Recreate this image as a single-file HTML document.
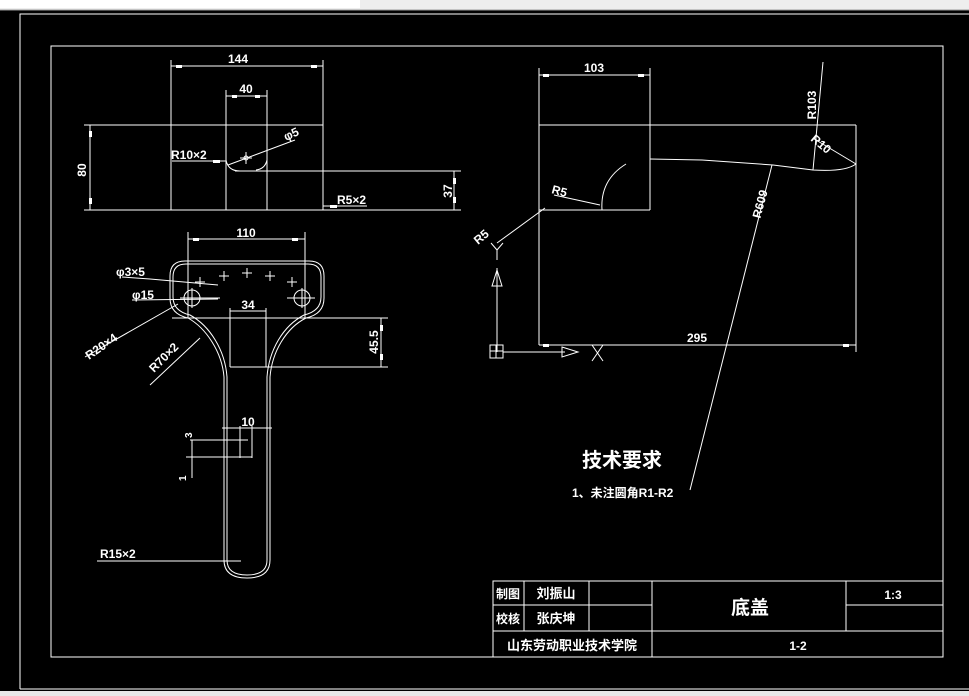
<!DOCTYPE html>
<html><head><meta charset="utf-8"><style>
html,body{margin:0;padding:0;background:#000;width:969px;height:696px;overflow:hidden}
svg{display:block}
text{fill:#fff;font-family:"Liberation Sans Narrow","Liberation Sans","Noto Sans CJK SC",sans-serif;font-weight:bold}
.c{font-family:"Liberation Sans","Noto Sans CJK SC",sans-serif}
</style></head><body>
<svg width="969" height="696" viewBox="0 0 969 696" xmlns="http://www.w3.org/2000/svg">
<rect x="0" y="0" width="969" height="10" fill="#eeeeee"/>
<rect x="0" y="0" width="360" height="8" fill="#fff"/>
<line x1="0" y1="10" x2="969" y2="10" stroke="#999"/>
<rect x="0" y="691" width="969" height="5" fill="#e8e8e8"/>
<g stroke="#fff" stroke-width="1" fill="none">
<polyline points="20,689 20,14 969,14"/>
<line x1="20" y1="689" x2="969" y2="689"/>
<rect x="51" y="46" width="892" height="611"/>
<rect x="493" y="581" width="450" height="76"/>
<line x1="493" y1="605" x2="652" y2="605"/>
<line x1="846" y1="605" x2="943" y2="605"/>
<line x1="493" y1="631" x2="943" y2="631"/>
<line x1="524" y1="581" x2="524" y2="631"/>
<line x1="589" y1="581" x2="589" y2="631"/>
<line x1="652" y1="581" x2="652" y2="657"/>
<line x1="846" y1="581" x2="846" y2="631"/>

<line x1="84" y1="125" x2="323" y2="125"/>
<line x1="84" y1="210" x2="461" y2="210"/>
<line x1="90" y1="125" x2="90" y2="210"/>
<line x1="171" y1="60" x2="171" y2="210"/>
<line x1="323" y1="60" x2="323" y2="210"/>
<line x1="226" y1="90" x2="226" y2="210"/>
<line x1="267" y1="90" x2="267" y2="210"/>
<line x1="171" y1="66" x2="323" y2="66"/>
<line x1="226" y1="96" x2="267" y2="96"/>
<path d="M235,171 H461"/>
<path d="M226,160 Q228,171 240,171"/>
<path d="M267,160 Q265,169 256,170"/>
<line x1="454" y1="171" x2="454" y2="210"/>
<line x1="172" y1="161" x2="226" y2="161"/>
<line x1="228" y1="165" x2="295" y2="140"/>
<line x1="240" y1="158" x2="252" y2="158"/><line x1="246" y1="152" x2="246" y2="164"/>
<circle cx="246" cy="158" r="2"/>
<line x1="323" y1="206" x2="367" y2="206"/>

<line x1="539" y1="68" x2="539" y2="345"/>
<line x1="650" y1="68" x2="650" y2="210"/>
<line x1="539" y1="75" x2="650" y2="75"/>
<line x1="539" y1="125" x2="856" y2="125"/>
<line x1="856" y1="125" x2="856" y2="352"/>
<line x1="539" y1="210" x2="650" y2="210"/>
<line x1="539" y1="345" x2="856" y2="345"/>
<path d="M650,159 L702,160 L773,165 L813,170 Q845,172 856,164"/>
<path d="M602,210 Q600,180 626,164"/>
<line x1="554" y1="195" x2="600" y2="205"/>
<line x1="497" y1="243" x2="545" y2="208"/>
<line x1="823" y1="62" x2="813" y2="170"/>
<line x1="816" y1="140" x2="856" y2="164"/>
<line x1="690" y1="490" x2="772" y2="165"/>
<line x1="497" y1="268" x2="497" y2="352"/>
<line x1="503" y1="352" x2="565" y2="352"/>
<rect x="490" y="345" width="13" height="13"/>
<line x1="496" y1="345" x2="496" y2="358"/><line x1="490" y1="351" x2="503" y2="351"/>
<path d="M562,347 L578,352 L562,357 Z"/>
<path d="M492,286 L497,270 L502,286 Z"/>
<line x1="592" y1="345" x2="603" y2="361"/><line x1="603" y1="345" x2="592" y2="361"/>
<line x1="497" y1="250" x2="497" y2="260"/><line x1="497" y1="250" x2="491" y2="243"/><line x1="497" y1="250" x2="503" y2="243"/>

<line x1="188" y1="232" x2="188" y2="318"/>
<line x1="305" y1="232" x2="305" y2="318"/>
<line x1="188" y1="239" x2="305" y2="239"/>
<path d="M185,261 H309 Q324,261 324,276 V298 Q324,314 306,318 C286,328 272,352 270,377 V560 Q270,578 247,578 Q224,578 224,560 V377 C222,352 206,328 188,318 Q170,314 170,298 V276 Q170,261 185,261 Z"/>
<path d="M186,264 H308 Q321,264 321,277 V297 Q321,311 304,315 C283,326 269,350 267,377 V560 Q267,575 247,575 Q227,575 227,560 V377 C225,350 210,326 190,315 Q173,311 173,297 V277 Q173,264 186,264 Z"/>
<line x1="172" y1="318" x2="388" y2="318"/>
<line x1="230" y1="308" x2="230" y2="367"/>
<line x1="266" y1="308" x2="266" y2="367"/>
<line x1="230" y1="367" x2="388" y2="367"/>
<line x1="230" y1="311" x2="266" y2="311"/>
<line x1="381" y1="318" x2="381" y2="367"/>
<circle cx="192" cy="298" r="8"/><circle cx="302" cy="298" r="8"/>
<line x1="180" y1="298" x2="220" y2="298"/><line x1="287" y1="298" x2="315" y2="298"/>
<line x1="192" y1="288" x2="192" y2="308"/><line x1="302" y1="288" x2="302" y2="308"/>
<line x1="195" y1="282" x2="205" y2="282"/><line x1="200" y1="277" x2="200" y2="287"/>
<line x1="219" y1="276" x2="229" y2="276"/><line x1="224" y1="271" x2="224" y2="281"/>
<line x1="242" y1="273" x2="252" y2="273"/><line x1="247" y1="268" x2="247" y2="278"/>
<line x1="265" y1="276" x2="275" y2="276"/><line x1="270" y1="271" x2="270" y2="281"/>
<line x1="287" y1="282" x2="297" y2="282"/><line x1="292" y1="277" x2="292" y2="287"/>
<line x1="122" y1="277" x2="150" y2="279"/><line x1="150" y1="279" x2="218" y2="285"/>
<line x1="132" y1="300" x2="218" y2="299"/>
<line x1="85" y1="357" x2="178" y2="304"/>
<line x1="150" y1="385" x2="200" y2="338"/>
<line x1="222" y1="428" x2="272" y2="428"/>
<line x1="240" y1="426" x2="240" y2="458"/>
<line x1="252" y1="426" x2="252" y2="458"/>
<line x1="190" y1="440" x2="248" y2="440"/>
<line x1="186" y1="457" x2="252" y2="457"/>
<line x1="192" y1="440" x2="192" y2="478"/>
<line x1="97" y1="561" x2="241" y2="561"/>
</g>
<g fill="#fff">
<rect x="176" y="65" width="6" height="3"/><rect x="311" y="65" width="6" height="3"/>
<rect x="232" y="95" width="5" height="3"/><rect x="255" y="95" width="5" height="3"/>
<rect x="89" y="131" width="3" height="6"/><rect x="89" y="198" width="3" height="6"/>
<rect x="453" y="178" width="3" height="6"/><rect x="453" y="197" width="3" height="6"/>
<rect x="543" y="74" width="6" height="3"/><rect x="638" y="74" width="6" height="3"/>
<rect x="543" y="344" width="6" height="3"/><rect x="843" y="344" width="6" height="3"/>
<rect x="193" y="238" width="6" height="3"/><rect x="292" y="238" width="6" height="3"/>
<rect x="380" y="325" width="3" height="6"/><rect x="380" y="354" width="3" height="6"/>
<rect x="213" y="160" width="7" height="3"/><rect x="330" y="205" width="7" height="3"/>
</g>
<g font-size="12">
<text x="238" y="63" text-anchor="middle">144</text>
<text x="246" y="93" text-anchor="middle">40</text>
<text x="171" y="159">R10×2</text>
<text x="337" y="204">R5×2</text>
<text x="286" y="141" transform="rotate(-25 286 141)">φ5</text>
<text x="86" y="170" transform="rotate(-90 86 170)" text-anchor="middle">80</text>
<text x="452" y="191" transform="rotate(-90 452 191)" text-anchor="middle">37</text>
<text x="594" y="72" text-anchor="middle">103</text>
<text x="697" y="342" text-anchor="middle">295</text>
<text x="551" y="193" transform="rotate(15 551 193)">R5</text>
<text x="478" y="245" transform="rotate(-40 478 245)">R5</text>
<text x="816" y="105" transform="rotate(-90 816 105)" text-anchor="middle">R103</text>
<text x="810" y="140" transform="rotate(40 810 140)">R10</text>
<text x="764" y="205" transform="rotate(-75 764 205)" text-anchor="middle">R609</text>
<text x="246" y="237" text-anchor="middle">110</text>
<text x="248" y="309" text-anchor="middle">34</text>
<text x="116" y="276">φ3×5</text>
<text x="132" y="299">φ15</text>
<text x="378" y="342" transform="rotate(-90 378 342)" text-anchor="middle">45.5</text>
<text x="89" y="360" transform="rotate(-35 89 360)">R20×4</text>
<text x="154" y="373" transform="rotate(-45 154 373)">R70×2</text>
<text x="248" y="426" text-anchor="middle">10</text>
<text x="192" y="438" transform="rotate(-90 192 438)" font-size="10">3</text>
<text x="186" y="481" transform="rotate(-90 186 481)" font-size="10">1</text>
<text x="100" y="558">R15×2</text>
<text x="893" y="599" text-anchor="middle">1:3</text>
<text x="798" y="650" text-anchor="middle">1-2</text>
</g>
<g>
<text x="582" y="467" font-size="20" class="c">技术要求</text>
<text x="572" y="497" font-size="12" class="c">1、未注圆角R1-R2</text>
<text x="508" y="598" font-size="12" text-anchor="middle" class="c">制图</text>
<text x="508" y="623" font-size="12" text-anchor="middle" class="c">校核</text>
<text x="556" y="598" font-size="13" text-anchor="middle" class="c">刘振山</text>
<text x="556" y="623" font-size="13" text-anchor="middle" class="c">张庆坤</text>
<text x="750" y="614" font-size="19" text-anchor="middle" class="c">底盖</text>
<text x="572" y="650" font-size="13" text-anchor="middle" class="c">山东劳动职业技术学院</text>
</g>
</svg>
</body></html>
